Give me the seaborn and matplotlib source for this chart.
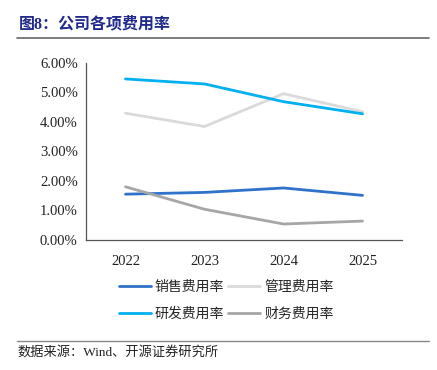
import matplotlib
matplotlib.use("Agg")
import matplotlib.pyplot as plt
from matplotlib.lines import Line2D
from matplotlib.ticker import FixedLocator, FuncFormatter
import seaborn as sns
import pandas as pd

years = ["2022", "2023", "2024", "2025"]
series_names = ["销售费用率", "管理费用率", "研发费用率", "财务费用率"]
sales = [1.55, 1.61, 1.76, 1.51]
admin = [4.29, 3.84, 4.95, 4.34]
rnd = [5.45, 5.28, 4.68, 4.27]
finance = [1.80, 1.04, 0.54, 0.64]
colors = ["#2F72C9", "#DADADA", "#00B0F0", "#A6A6A6"]
yticks = [0, 1, 2, 3, 4, 5, 6]

sns.set_theme(style="white")
plt.rcParams['font.family'] = ['Liberation Serif', 'Noto Sans CJK SC']

rows = []
for name, vals in zip(series_names, [sales, admin, rnd, finance]):
    for i, (y, v) in enumerate(zip(years, vals)):
        rows.append({"年份": i, "系列": name, "值": v})
df = pd.DataFrame(rows)

fig = plt.figure(figsize=(4.37, 3.70), dpi=100)
ax = fig.add_axes([0.1968, 0.3514, 0.7232, 0.4792])
sns.lineplot(data=df, x="年份", y="值", hue="系列", hue_order=series_names,
             palette=colors, linewidth=2.0, ax=ax, legend=False)

ax.set_xlim(-0.5, 3.5)
ax.set_ylim(0, 6)
ax.set_xlabel("")
ax.set_ylabel("")
ax.xaxis.set_major_locator(FixedLocator(range(4)))
ax.set_xticklabels(years)
ax.xaxis.set_minor_locator(FixedLocator([-0.5, 0.5, 1.5, 2.5, 3.5]))
ax.set_yticks(yticks)
ax.yaxis.set_major_formatter(FuncFormatter(lambda v, p: f"{v:.2f}%"))
ax.tick_params(axis="x", which="major", length=0, labelsize=10.5, pad=11, colors="#222222")
ax.tick_params(axis="x", which="minor", length=4, width=0.8, direction="out", color="#555555")
ax.tick_params(axis="y", which="major", length=4, width=0.8, direction="out", labelsize=10.5,
               color="#555555", labelcolor="#222222", pad=2)
for s in ["top", "right"]:
    ax.spines[s].set_visible(False)
for s in ["left", "bottom"]:
    ax.spines[s].set_color("#555555")
    ax.spines[s].set_linewidth(0.9)

# legend: row-wise order (matplotlib fills columns first)
order = [0, 2, 1, 3]
handles = [Line2D([0], [0], color=colors[i], lw=2.0) for i in order]
labels = [series_names[i] for i in order]
fig.legend(handles, labels, ncol=2, loc="center", bbox_to_anchor=(0.518, 0.188),
           frameon=False, handlelength=2.3, handletextpad=0.3,
           columnspacing=0.3, labelspacing=0.95,
           prop={'family': ['Noto Sans CJK SC'], 'size': 10.0})

# title and rules
fig.text(0.043, 0.935, "图8：公司各项费用率", fontsize=11.5, fontweight="bold",
         color="#1F2A8C", family=['Liberation Serif', 'Noto Sans CJK SC'], va="center", ha="left")
fig.add_artist(Line2D([0.039, 0.982], [0.897, 0.897], color="#666666", lw=1.2,
                      transform=fig.transFigure))
fig.add_artist(Line2D([0.039, 0.982], [0.079, 0.079], color="#888888", lw=1.0,
                      transform=fig.transFigure))
fig.text(0.041, 0.047, "数据来源：Wind、开源证券研究所", fontsize=9.5, color="#222222",
         family=['Liberation Serif', 'Noto Sans CJK SC'], va="center", ha="left")

fig.savefig("out.png", dpi=100)
